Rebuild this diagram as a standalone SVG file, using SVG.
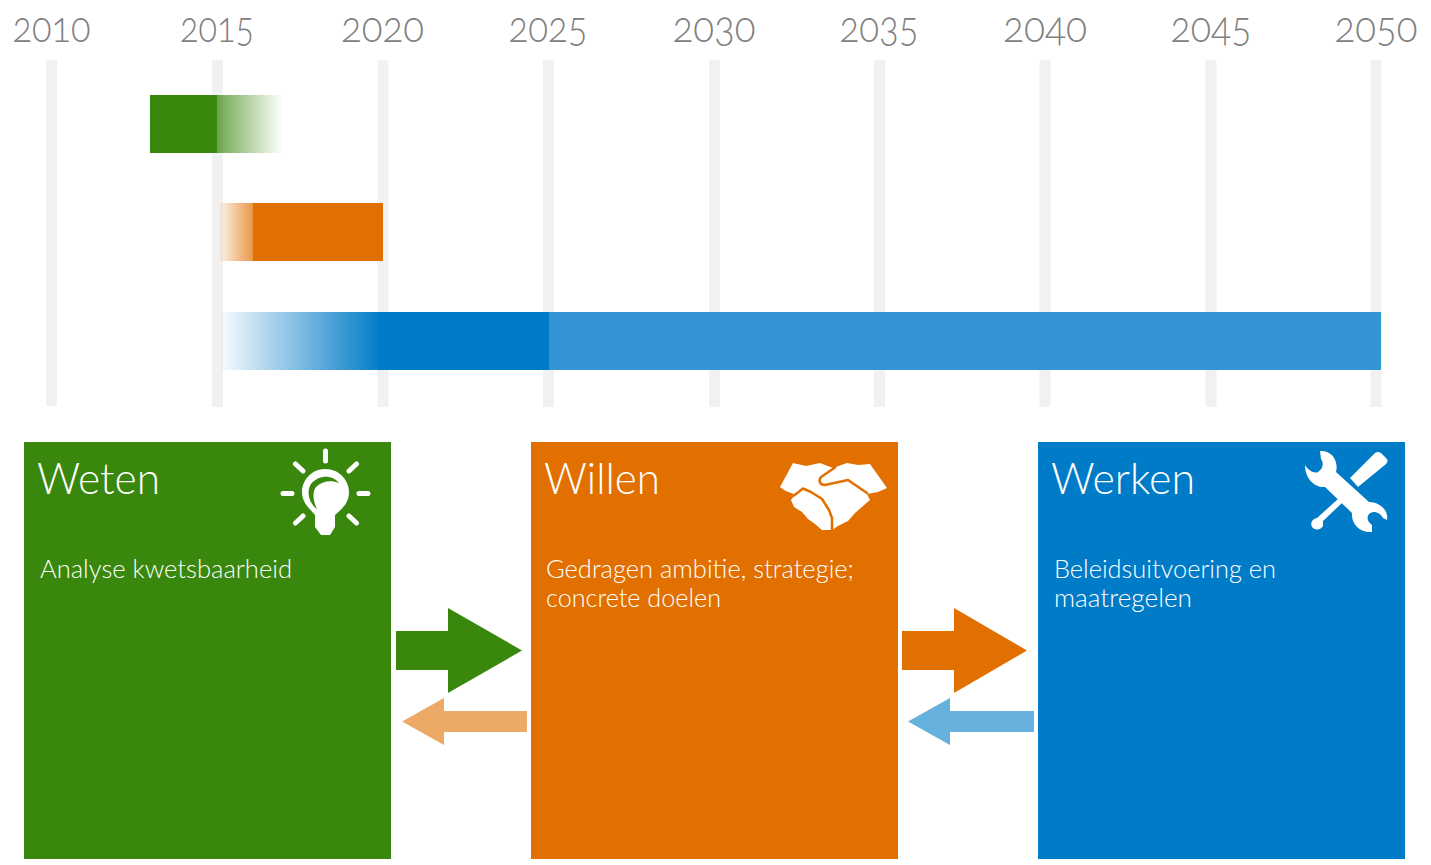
<svg xmlns="http://www.w3.org/2000/svg" width="1431" height="865" viewBox="0 0 1431 865">
<style>
.yr{font:300 43px Lato,"Open Sans",sans-serif;fill:#808080;text-anchor:middle;font-variant-numeric:oldstyle-nums}
.gl{fill:#f1f1f1}
.h{font:300 44px Lato,"Open Sans",sans-serif;fill:#fff}
.t{font:300 26px Lato,"Open Sans",sans-serif;fill:#fff}
.w{fill:#fff}
.ws{stroke:#fff;stroke-width:5;stroke-linecap:round;fill:none}
.ol{stroke:#e17000;stroke-width:2.500;fill:none;stroke-linecap:round;stroke-linejoin:round}
</style>
<defs>
<linearGradient id="gg"><stop offset="0" stop-color="#39870c" stop-opacity=".72"/><stop offset="1" stop-color="#39870c" stop-opacity="0"/></linearGradient>
<linearGradient id="og"><stop offset="0" stop-color="#e17000" stop-opacity=".08"/><stop offset="1" stop-color="#e17000" stop-opacity=".75"/></linearGradient>
<linearGradient id="bg"><stop offset="0" stop-color="#007bc7" stop-opacity=".03"/><stop offset="1" stop-color="#007bc7"/></linearGradient>
</defs>
<rect width="1431" height="865" fill="#fff"/>
<g id="timeline">
<g class="gl">
<rect x="46" y="60" width="11" height="346"/><rect x="212" y="60" width="11" height="347"/><rect x="377.500" y="60" width="11" height="347"/><rect x="543" y="60" width="11" height="347"/><rect x="709" y="60" width="11" height="347"/><rect x="874" y="60" width="11" height="347"/><rect x="1039.500" y="60" width="11" height="347"/><rect x="1205.500" y="60" width="11" height="347"/><rect x="1370.500" y="60" width="11" height="347"/>
</g>
<g class="yr">
<text x="51.500" y="42" textLength="78" lengthAdjust="spacingAndGlyphs">2010</text>
<text x="217" y="42" textLength="74" lengthAdjust="spacingAndGlyphs">2015</text>
<text x="382.500" y="42" textLength="83" lengthAdjust="spacingAndGlyphs">2020</text>
<text x="548" y="42" textLength="79" lengthAdjust="spacingAndGlyphs">2025</text>
<text x="714" y="42" textLength="83" lengthAdjust="spacingAndGlyphs">2030</text>
<text x="879" y="42" textLength="79" lengthAdjust="spacingAndGlyphs">2035</text>
<text x="1045" y="42" textLength="84" lengthAdjust="spacingAndGlyphs">2040</text>
<text x="1211" y="42" textLength="81" lengthAdjust="spacingAndGlyphs">2045</text>
<text x="1376" y="42" textLength="83" lengthAdjust="spacingAndGlyphs">2050</text>
</g>
<rect x="150" y="95" width="67" height="58" fill="#39870c"/>
<rect x="217" y="95" width="66" height="58" fill="url(#gg)"/>
<rect x="220" y="203" width="34" height="58" fill="url(#og)"/>
<rect x="253" y="203" width="130" height="58" fill="#e17000"/>
<rect x="221" y="312" width="160" height="58" fill="url(#bg)"/>
<rect x="380" y="312" width="169" height="58" fill="#007bc7"/>
<rect x="549" y="312" width="832" height="58" fill="#3395d3"/>
</g>
<g id="connectors">
<path d="M396 631H448V608L522 650.500L448 693V670H396Z" fill="#39870c"/>
<path d="M902 631H954V608L1027 650.500L954 693V670H902Z" fill="#e17000"/>
<path d="M527 711H444V698L402 721.500L444 745V732H527Z" fill="#edaa66"/>
<path d="M1034 711H950V698L908 721.500L950 745V732H1034Z" fill="#66b0dd"/>
</g>
<g id="weten">
<rect x="24" y="442" width="367" height="417" fill="#39870c"/>
<text class="h" x="37" y="494" textLength="123" lengthAdjust="spacingAndGlyphs">Weten</text>
<text class="t" x="40" y="578" textLength="252" lengthAdjust="spacingAndGlyphs">Analyse kwetsbaarheid</text>
<path class="ws" d="M325.500 451V461M295.500 464L303 471M356.500 464L349 471M283 493.500H292M359 493.500H368M295.500 523L303 516M356.500 523L349 516"/>
<path class="w" fill-rule="evenodd" d="M325 469C311 469 302 481 302 492C302 503 310 509 315 515V527L321 535H330L335 527V515C342 509 349 503 349 492C349 481 340 469 325 469ZM339 483C332 474 318 475 311 484C306 492 309 503 317 509C313 501 312 492 316 487C322 481 331 480 339 483Z"/>
</g>
<g id="willen">
<rect x="531" y="442" width="367" height="417" fill="#e17000"/>
<text class="h" x="544" y="494" textLength="116" lengthAdjust="spacingAndGlyphs">Willen</text>
<text class="t" x="546" y="578" textLength="308" lengthAdjust="spacingAndGlyphs">Gedragen ambitie, strategie;</text>
<text class="t" x="546" y="607" textLength="175" lengthAdjust="spacingAndGlyphs">concrete doelen</text>
<path class="w" d="M793 463L806 466L820 463L833 468L847 463L858 465L870 464L887 488L878 492L867 494L870 500L863 506L855 513L848 521L838 526L832 530L822 530L815 524L808 519L802 512L794 507L791 500L794 496L787 492L780 487Z"/>
<path class="ol" d="M835 467.500L821 477C818 481 820 485 825 485L848 480L867 493"/>
<path class="ol" d="M786 492.500L794 495.500L803 488.500L811 492L822 499L829 510L832 518L832 530"/>
</g>
<g id="werken">
<rect x="1038" y="442" width="367" height="417" fill="#007bc7"/>
<text class="h" x="1051" y="494" textLength="144" lengthAdjust="spacingAndGlyphs">Werken</text>
<text class="t" x="1054" y="578" textLength="222" lengthAdjust="spacingAndGlyphs">Beleidsuitvoering en</text>
<text class="t" x="1054" y="607" textLength="138" lengthAdjust="spacingAndGlyphs">maatregelen</text>
<path class="w" d="M1375 453C1378 451 1380 452 1382 454L1386 458C1388 460 1388 462 1386 464L1358 487L1350 478Z"/>
<path class="w" d="M1338 499L1342 503L1323 521L1323 526C1320 531 1314 530 1312 527C1310 523 1312 519 1317 518Z"/>
<path class="w" d="M1320 451C1331 450 1339 460 1336 472L1369 502C1380 502 1389 511 1387 520L1383 518C1380 512 1373 510 1369 514C1366 518 1368 522 1372 525L1372 532C1360 533 1351 524 1352 513L1325 487C1314 488 1305 478 1305 465C1308 470 1314 474 1318 472C1323 469 1324 463 1321 459Z"/>
</g>
</svg>
